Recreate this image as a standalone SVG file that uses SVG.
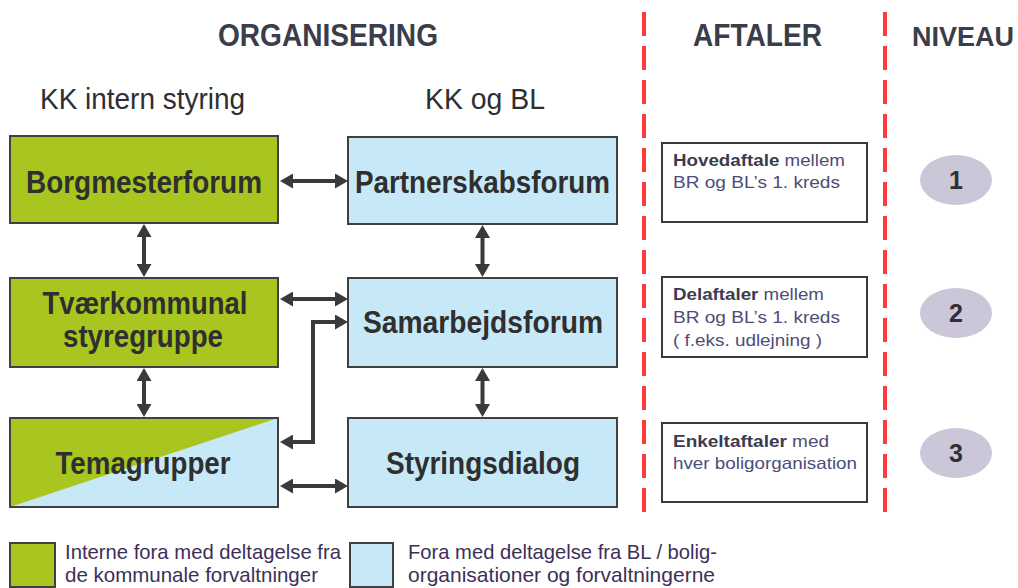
<svg xmlns="http://www.w3.org/2000/svg" width="1018" height="588" viewBox="0 0 1018 588">
<style>
.head{font-family:"Liberation Sans",Arial,sans-serif;font-weight:bold;font-size:31px;fill:#3a3d4a}
.sub{font-family:"Liberation Sans",Arial,sans-serif;font-size:29px;fill:#2e2e33}
.box{stroke:#404040;stroke-width:2}
.green{fill:#a9c520}
.blue{fill:#c6e8f7}
.lbl{font-family:"Liberation Sans",Arial,sans-serif;font-weight:bold;font-size:31px;fill:#2f2f30;text-anchor:middle}
.ab{fill:#fff;stroke:#3a3a3a;stroke-width:2}
.at{font-family:"Liberation Sans",Arial,sans-serif;font-size:16.5px;fill:#4d4d78}
.at .b{font-weight:bold;fill:#3b3b52}
.niv{fill:#cbc6d8}
.num{font-family:"Liberation Sans",Arial,sans-serif;font-weight:bold;font-size:25px;fill:#2f2f35;text-anchor:middle}
.red{stroke:#ff3a3a;stroke-width:4;stroke-dasharray:24 10;fill:none}
.con{stroke:#3a3a3a;stroke-width:4;fill:none;marker-start:url(#ah);marker-end:url(#ah)}
.leg{font-family:"Liberation Sans",Arial,sans-serif;font-size:21px;fill:#3d2f58}
</style>
<defs>
<marker id="ah" markerUnits="userSpaceOnUse" markerWidth="13" markerHeight="15" viewBox="0 0 13 15" refX="0" refY="7.5" orient="auto-start-reverse">
<path d="M0,0 L13,7.5 L0,15 z" fill="#3a3a3a"/>
</marker>
</defs>

<g id="headings">
<text class="head" x="218" y="46" textLength="220" lengthAdjust="spacingAndGlyphs">ORGANISERING</text>
<text class="head" x="693" y="46" textLength="129" lengthAdjust="spacingAndGlyphs">AFTALER</text>
<text class="head" x="912" y="46" style="font-size:27px">NIVEAU</text>
<text class="sub" x="40" y="109" textLength="205" lengthAdjust="spacingAndGlyphs">KK intern styring</text>
<text class="sub" x="425" y="109" textLength="120" lengthAdjust="spacingAndGlyphs">KK og BL</text>
</g>

<g id="dividers">
<line class="red" x1="644" y1="12" x2="644" y2="522"/>
<line class="red" x1="885" y1="12" x2="885" y2="522"/>
</g>

<g id="borgmesterforum">
<rect class="box green" x="10" y="136" width="268" height="87"/>
<text class="lbl" x="144" y="193" textLength="236" lengthAdjust="spacingAndGlyphs">Borgmesterforum</text>
</g>
<g id="partnerskabsforum">
<rect class="box blue" x="348" y="137" width="269" height="87"/>
<text class="lbl" x="482.5" y="193" textLength="255" lengthAdjust="spacingAndGlyphs">Partnerskabsforum</text>
</g>
<g id="tvaerkommunal">
<rect class="box green" x="10" y="278" width="268" height="89"/>
<text class="lbl" x="145" y="314" textLength="205" lengthAdjust="spacingAndGlyphs">Tværkommunal</text>
<text class="lbl" x="143" y="347" textLength="160" lengthAdjust="spacingAndGlyphs">styregruppe</text>
</g>
<g id="samarbejdsforum">
<rect class="box blue" x="348" y="278" width="269" height="89"/>
<text class="lbl" x="483" y="333" textLength="240" lengthAdjust="spacingAndGlyphs">Samarbejdsforum</text>
</g>
<g id="temagrupper">
<rect class="blue" x="10" y="418" width="268" height="89"/>
<polygon class="green" points="10,418 278,418 10,507"/>
<rect x="10" y="418" width="268" height="89" fill="none" stroke="#404040" stroke-width="2"/>
<text class="lbl" x="143" y="474" textLength="175" lengthAdjust="spacingAndGlyphs">Temagrupper</text>
</g>
<g id="styringsdialog">
<rect class="box blue" x="348" y="418" width="269" height="89"/>
<text class="lbl" x="483" y="474" textLength="194" lengthAdjust="spacingAndGlyphs">Styringsdialog</text>
</g>

<g id="connectors">
<path class="con" d="M293,181 L335,181"/>
<path class="con" d="M293,299 L335,299"/>
<path class="con" d="M335,322 L313,322 L313,442 L293,442"/>
<path class="con" d="M293,486 L335,486"/>
<path class="con" d="M144,237 L144,264"/>
<path class="con" d="M144,381 L144,404"/>
<path class="con" d="M482.5,238 L482.5,264"/>
<path class="con" d="M482.5,381 L482.5,404"/>
</g>

<g id="aftale1">
<rect class="ab" x="662" y="143" width="205" height="79"/>
<text class="at" x="673" y="166" textLength="172" lengthAdjust="spacingAndGlyphs"><tspan class="b">Hovedaftale</tspan> mellem</text>
<text class="at" x="673" y="188" textLength="167" lengthAdjust="spacingAndGlyphs">BR og BL’s 1. kreds</text>
</g>
<g id="aftale2">
<rect class="ab" x="662" y="277" width="205" height="80"/>
<text class="at" x="673" y="300" textLength="151" lengthAdjust="spacingAndGlyphs"><tspan class="b">Delaftaler</tspan> mellem</text>
<text class="at" x="673" y="323" textLength="167" lengthAdjust="spacingAndGlyphs">BR og BL’s 1. kreds</text>
<text class="at" x="673" y="346" textLength="149" lengthAdjust="spacingAndGlyphs">( f.eks. udlejning )</text>
</g>
<g id="aftale3">
<rect class="ab" x="662" y="423" width="205" height="79"/>
<text class="at" x="673" y="447" textLength="156" lengthAdjust="spacingAndGlyphs"><tspan class="b">Enkeltaftaler</tspan> med</text>
<text class="at" x="673" y="469" textLength="184" lengthAdjust="spacingAndGlyphs">hver boligorganisation</text>
</g>

<g id="niveau1">
<ellipse class="niv" cx="956" cy="180" rx="36" ry="25"/>
<text class="num" x="956" y="189">1</text>
</g>
<g id="niveau2">
<ellipse class="niv" cx="956" cy="313" rx="36" ry="25"/>
<text class="num" x="956" y="322">2</text>
</g>
<g id="niveau3">
<ellipse class="niv" cx="956" cy="453" rx="36" ry="25"/>
<text class="num" x="956" y="462">3</text>
</g>

<g id="legend">
<rect class="box green" x="10" y="543" width="45" height="44"/>
<text class="leg" x="65" y="559" textLength="276" lengthAdjust="spacingAndGlyphs">Interne fora med deltagelse fra</text>
<text class="leg" x="65" y="582" textLength="253" lengthAdjust="spacingAndGlyphs">de kommunale forvaltninger</text>
<rect class="box blue" x="350" y="543" width="43" height="44"/>
<text class="leg" x="408" y="559" textLength="309" lengthAdjust="spacingAndGlyphs">Fora med deltagelse fra BL / bolig-</text>
<text class="leg" x="408" y="582" textLength="307" lengthAdjust="spacingAndGlyphs">organisationer og forvaltningerne</text>
</g>
</svg>
